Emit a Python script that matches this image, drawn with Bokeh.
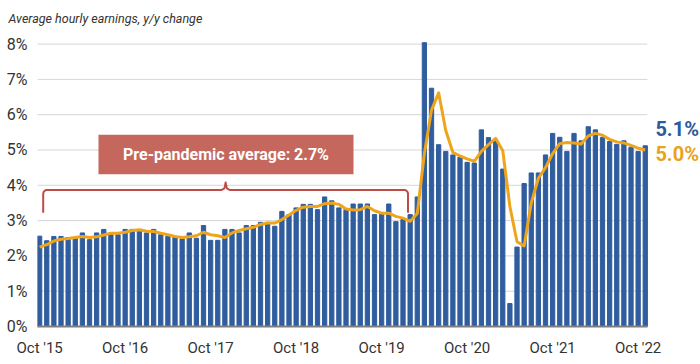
import numpy as np
from bokeh.plotting import figure
from bokeh.models import FixedTicker, Label, BoxAnnotation, Range1d
from bokeh.embed import file_html
from bokeh.resources import INLINE

# ---------------- data ----------------
# Average hourly earnings, y/y % change, monthly Oct 2015 .. Nov 2022
bars = [2.56, 2.43, 2.55, 2.55, 2.52, 2.50, 2.65, 2.46, 2.65, 2.75, 2.60, 2.60,
        2.75, 2.75, 2.70, 2.65, 2.75, 2.60, 2.55, 2.55, 2.48, 2.65, 2.50, 2.86,
        2.44, 2.44, 2.75, 2.75, 2.65, 2.86, 2.86, 2.95, 2.95, 2.84, 3.26, 3.17,
        3.36, 3.46, 3.46, 3.31, 3.67, 3.56, 3.36, 3.31, 3.47, 3.47, 3.47, 3.17,
        3.17, 3.47, 2.97, 3.03, 3.17, 3.67, 8.04, 6.75, 5.15, 4.96, 4.86, 4.79,
        4.65, 4.63, 5.57, 5.35, 5.24, 4.46, 0.65, 2.25, 4.05, 4.35, 4.35, 4.86,
        5.47, 5.36, 4.96, 5.47, 5.26, 5.66, 5.57, 5.36, 5.24, 5.16, 5.26, 5.08,
        4.96, 5.12]
# 3-month average line
avg3 = [2.25, 2.32, 2.42, 2.47, 2.49, 2.52, 2.55, 2.52, 2.54, 2.59, 2.64, 2.64,
        2.67, 2.72, 2.74, 2.70, 2.69, 2.64, 2.60, 2.55, 2.52, 2.54, 2.57, 2.67,
        2.60, 2.57, 2.52, 2.65, 2.72, 2.77, 2.81, 2.89, 2.93, 2.93, 3.03, 3.16,
        3.29, 3.38, 3.40, 3.40, 3.48, 3.50, 3.46, 3.33, 3.30, 3.31, 3.40, 3.28,
        3.21, 3.21, 3.12, 3.07, 2.98, 3.20, 4.90, 6.13, 6.62, 5.55, 4.93, 4.83,
        4.75, 4.68, 4.96, 5.15, 5.33, 4.98, 3.40, 2.40, 2.28, 3.50, 4.20, 4.50,
        4.90, 5.18, 5.21, 5.20, 5.17, 5.40, 5.47, 5.42, 5.30, 5.23, 5.20, 5.13,
        5.05, 5.00]
month_idx = list(range(len(bars)))
x_tick_pos = [0, 12, 24, 36, 48, 60, 72, 84]
x_tick_labels = ["Oct '15", "Oct '16", "Oct '17", "Oct '18", "Oct '19", "Oct '20", "Oct '21", "Oct '22"]
y_ticks = [0, 1, 2, 3, 4, 5, 6, 7, 8]
y_tick_labels = ["0%", "1%", "2%", "3%", "4%", "5%", "6%", "7%", "8%"]
title_text = "Average hourly earnings, y/y change"
annot_text = "Pre-pandemic average: 2.7%"
end_labels = ["5.1%", "5.0%"]

# ---------------- style ----------------
FONT = "Roboto"
BLUE = "#2F5D9E"
ORANGE = "#EFA51B"
RED = "#BE4B45"
BOXRED = "#C5675D"

W, H = 700, 364
BL, BT, BB = 37, 32, 38
XS = 7.125                      # px per month
XL = -0.3
XEND = len(bars) - 1 + 0.3      # right end of bar area
XR = XL + (W - BL) / XS
YB, YT = 0.0, 8.3
YS = (H - BT - BB) / (YT - YB)

p = figure(width=W, height=H, output_backend="svg", toolbar_location=None,
           x_range=Range1d(XL, XR), y_range=Range1d(YB, YT),
           min_border_left=BL, min_border_right=0, min_border_top=BT, min_border_bottom=BB)
p.outline_line_color = None
p.background_fill_color = "white"
p.border_fill_color = "white"

# gridlines limited to the bar area
p.segment(x0=XL, x1=XEND, y0=y_ticks[1:], y1=y_ticks[1:], color="#D6D6D6", line_width=1, level="underlay")
p.xgrid.grid_line_color = None
p.ygrid.grid_line_color = None

p.vbar(x=month_idx, top=bars, width=0.6, color=BLUE)
p.line(x=month_idx, y=avg3, color=ORANGE, line_width=3, line_join="round")

# axes
p.yaxis.ticker = FixedTicker(ticks=y_ticks)
p.yaxis.major_label_overrides = {t: l for t, l in zip(y_ticks, y_tick_labels)}
p.yaxis.axis_line_color = None
p.yaxis.major_tick_line_color = None
p.yaxis.minor_tick_line_color = None
p.yaxis.major_tick_out = 0
p.yaxis.major_tick_in = 0
p.yaxis.minor_tick_out = 0
p.yaxis.major_label_standoff = 10
p.yaxis.major_label_text_font = FONT
p.yaxis.major_label_text_font_size = "16px"
p.yaxis.major_label_text_color = "#333333"

p.xaxis.ticker = FixedTicker(ticks=x_tick_pos)
p.xaxis.major_label_overrides = {t: l for t, l in zip(x_tick_pos, x_tick_labels)}
p.xaxis.bounds = (XL, XEND)
p.xaxis.axis_line_color = "#7F7F7F"
p.xaxis.axis_line_width = 2
p.xaxis.major_tick_line_color = None
p.xaxis.minor_tick_line_color = None
p.xaxis.major_tick_out = 0
p.xaxis.major_tick_in = 0
p.xaxis.minor_tick_out = 0
p.xaxis.major_label_standoff = 12
p.xaxis.major_label_text_font = FONT
p.xaxis.major_label_text_font_size = "15px"
p.xaxis.major_label_text_color = "#333333"

# title
p.title.text = title_text
p.title.align = "left"
p.title.offset = -29
p.title.standoff = 16
p.title.text_font = FONT
p.title.text_font_style = "italic"
p.title.text_font_size = "12.5px"
p.title.text_color = "#333333"

# annotation box
bx0, bx1 = 8.26, 44.05
p.add_layout(BoxAnnotation(left=bx0, right=bx1, bottom=4.31, top=5.43,
                           fill_color=BOXRED, fill_alpha=1.0, line_color=None))
p.add_layout(Label(x=(bx0 + bx1) / 2, y=4.87, text=annot_text, text_font=FONT,
                   text_font_style="bold", text_font_size="16px", text_color="white",
                   text_align="center", text_baseline="middle"))

# curly bracket spanning pre-pandemic months
x0, x1 = 0.5, 51.7
xm = (bx0 + bx1) / 2 - 0.05
yh, yb, ypk = 3.87, 3.22, 4.08
rx, ry = 4 / XS, 4 / YS
t = np.linspace(np.pi, np.pi / 2, 6)
left_arc = [(x0 + rx + rx * np.cos(a), yh - ry + ry * np.sin(a)) for a in t]
t2 = np.linspace(np.pi / 2, 0, 6)
right_arc = [(x1 - rx + rx * np.cos(a), yh - ry + ry * np.sin(a)) for a in t2]
pts = [(x0, yb)] + left_arc + [
    (xm - 4 / XS, yh), (xm - 1.5 / XS, yh + 1.2 / YS), (xm - 0.6 / XS, yh + 4 / YS), (xm, ypk),
    (xm + 0.6 / XS, yh + 4 / YS), (xm + 1.5 / XS, yh + 1.2 / YS), (xm + 4 / XS, yh)] + right_arc + [(x1, yb)]
p.line(x=[q[0] for q in pts], y=[q[1] for q in pts], color=RED, line_width=2, line_join="round")

# end labels
p.add_layout(Label(x=XEND, y=5.59, x_offset=8, text=end_labels[0], text_font=FONT,
                   text_font_style="bold", text_font_size="20px", text_color="#2D5A9B",
                   text_baseline="middle", text_align="left"))
p.add_layout(Label(x=XEND, y=4.88, x_offset=8, text=end_labels[1], text_font=FONT,
                   text_font_style="bold", text_font_size="20px", text_color="#E9A21C",
                   text_baseline="middle", text_align="left"))

open("out.html", "w").write(file_html(p, INLINE))
